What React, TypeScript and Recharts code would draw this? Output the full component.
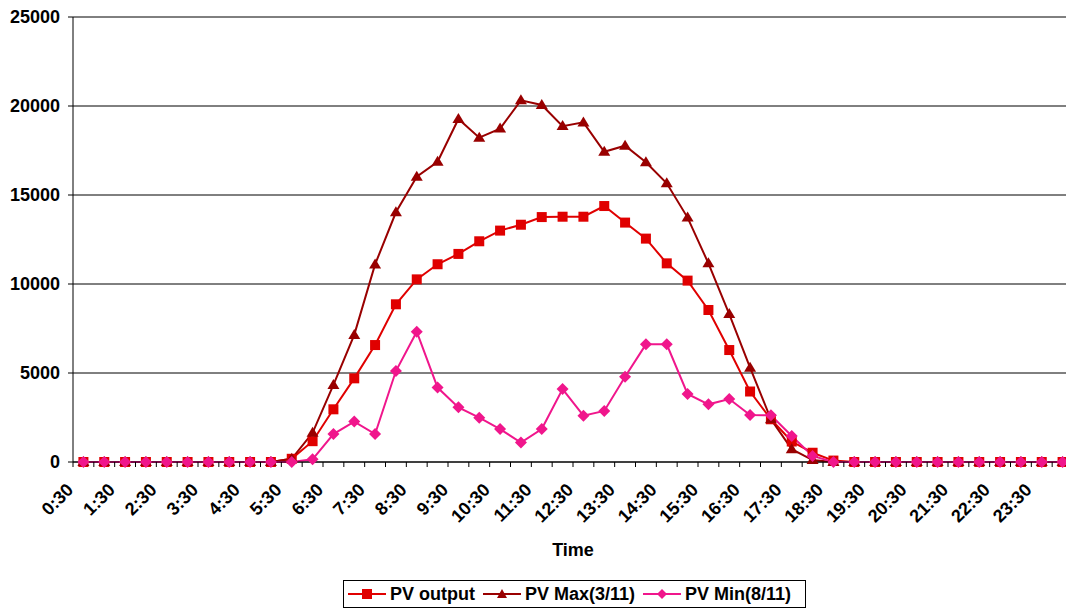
import React from "react";
import {
  LineChart,
  Line,
  XAxis,
  YAxis,
  CartesianGrid,
  Legend,
} from "recharts";

const times = [
  "0:30", "1:00", "1:30", "2:00", "2:30", "3:00", "3:30", "4:00",
  "4:30", "5:00", "5:30", "6:00", "6:30", "7:00", "7:30", "8:00",
  "8:30", "9:00", "9:30", "10:00", "10:30", "11:00", "11:30", "12:00",
  "12:30", "13:00", "13:30", "14:00", "14:30", "15:00", "15:30", "16:00",
  "16:30", "17:00", "17:30", "18:00", "18:30", "19:00", "19:30", "20:00",
  "20:30", "21:00", "21:30", "22:00", "22:30", "23:00", "23:30", "24:00",
];

const pvOutput = [
  0, 0, 0, 0, 0, 0, 0, 0, 0, 0, 180, 1170,
  2960, 4700, 6570, 8860, 10260, 11110, 11690, 12400, 13000, 13330, 13760, 13780,
  13780, 14380, 13450, 12550, 11160, 10190, 8540, 6290, 3960, 2400, 1150, 520,
  80, 0, 0, 0, 0, 0, 0, 0, 0, 0, 0, 0,
];

const pvMax = [
  0, 0, 0, 0, 0, 0, 0, 0, 0, 0, 180, 1640,
  4330, 7140, 11100, 14030, 16030, 16870, 19270, 18220, 18730, 20320, 20060, 18870,
  19080, 17430, 17770, 16840, 15660, 13730, 11160, 8310, 5300, 2400, 720, 110,
  0, 0, 0, 0, 0, 0, 0, 0, 0, 0, 0, 0,
];

const pvMin = [
  0, 0, 0, 0, 0, 0, 0, 0, 0, 0, 0, 150,
  1570, 2270, 1570, 5110, 7320, 4180, 3070, 2490, 1850, 1090, 1850, 4100,
  2600, 2870, 4790, 6610, 6610, 3820, 3240, 3540, 2640, 2620, 1460, 340,
  0, 0, 0, 0, 0, 0, 0, 0, 0, 0, 0, 0,
];

const yTicks = [0, 5000, 10000, 15000, 20000, 25000];

const data = times.map((t, i) => ({
  time: t,
  output: pvOutput[i],
  max: pvMax[i],
  min: pvMin[i],
}));

const RED = "#e00000";
const DARK = "#990000";
const PINK = "#f0168c";
const FONT = "'Liberation Sans', Arial, sans-serif";

// plot is 1000px wide with 48 categories (right edge is cut off by the window)
const BAND = 1000 / 48;

const squareDot = (color: string) => (p: any) => {
  if (p.cx == null || p.cy == null) return <g key={p.index} />;
  return <rect key={p.index} x={p.cx - 5} y={p.cy - 5} width={10} height={10} fill={color} />;
};

const triangleDot = (color: string) => (p: any) => {
  if (p.cx == null || p.cy == null) return <g key={p.index} />;
  const { cx, cy } = p;
  return (
    <path key={p.index} d={`M${cx},${cy - 6} L${cx + 6},${cy + 4} L${cx - 6},${cy + 4} Z`} fill={color} />
  );
};

const diamondDot = (color: string) => (p: any) => {
  if (p.cx == null || p.cy == null) return <g key={p.index} />;
  const { cx, cy } = p;
  return (
    <path key={p.index} d={`M${cx},${cy - 6} L${cx + 6},${cy} L${cx},${cy + 6} L${cx - 6},${cy} Z`} fill={color} />
  );
};

const XTick = (props: any) => {
  const { x, y, payload, index } = props;
  const lx = x - BAND / 2;
  const tx = x - 9;
  const ty = y + 29;
  return (
    <g>
      <line x1={lx} y1={y} x2={lx} y2={y + 5} stroke="#000" />
      {index % 2 === 0 && (
        <text
          x={tx}
          y={ty}
          transform={`rotate(-45, ${tx}, ${ty})`}
          textAnchor="end"
          fontFamily={FONT}
          fontWeight="bold"
          fontSize={18}
          fill="#000"
        >
          {payload.value}
        </text>
      )}
    </g>
  );
};

const legendItems = [
  { label: "PV output", color: RED, shape: "square" },
  { label: "PV Max(3/11)", color: DARK, shape: "triangle" },
  { label: "PV Min(8/11)", color: PINK, shape: "diamond" },
];

const LegendBox = () => (
  <div
    style={{
      boxSizing: "border-box",
      height: 28,
      border: "1px solid #000",
      display: "flex",
      alignItems: "center",
      padding: "0 4px",
      fontFamily: FONT,
      fontWeight: "bold",
      fontSize: 18,
      color: "#000",
      whiteSpace: "nowrap",
    }}
  >
    {legendItems.map((it) => (
      <span key={it.label} style={{ display: "flex", alignItems: "center", marginRight: 8 }}>
        <svg width={38} height={14} style={{ marginRight: 4 }}>
          <line x1={0} y1={7} x2={38} y2={7} stroke={it.color} strokeWidth={2} />
          {it.shape === "square" && <rect x={14} y={2} width={10} height={10} fill={it.color} />}
          {it.shape === "triangle" && <path d="M19,2 L24,11 L14,11 Z" fill={it.color} />}
          {it.shape === "diamond" && <path d="M19,2 L24,7 L19,12 L14,7 Z" fill={it.color} />}
        </svg>
        {it.label}
      </span>
    ))}
  </div>
);

export default function App() {
  return (
    <div
      style={{
        position: "fixed",
        left: 0,
        top: 0,
        width: 1066,
        height: 610,
        overflow: "hidden",
        background: "#fff",
      }}
    >
      <LineChart width={1080} height={610} data={data} margin={{ top: 17, right: 7, left: 0, bottom: 0 }}>
        <CartesianGrid vertical={false} stroke="#000" />
        <XAxis
          dataKey="time"
          interval={0}
          padding={{ left: BAND / 2, right: BAND / 2 }}
          tickSize={0}
          tickMargin={0}
          tickLine={false}
          axisLine={{ stroke: "#000" }}
          tick={<XTick />}
          height={120}
          label={{
            value: "Time",
            position: "insideBottom",
            offset: 26,
            fontFamily: FONT,
            fontWeight: "bold",
            fontSize: 18,
            fill: "#000",
          }}
        />
        <YAxis
          domain={[0, 25000]}
          ticks={yTicks}
          width={73}
          tickSize={5}
          tickMargin={8}
          axisLine={{ stroke: "#000" }}
          tickLine={{ stroke: "#000" }}
          tick={{ fontFamily: FONT, fontWeight: "bold", fontSize: 18, fill: "#000" }}
        />
        <Legend
          content={<LegendBox />}
          wrapperStyle={{ left: 343, top: 580, width: 463, height: 28 }}
        />
        <Line
          dataKey="output"
          name="PV output"
          stroke={RED}
          strokeWidth={2}
          dot={squareDot(RED)}
          activeDot={false}
          isAnimationActive={false}
        />
        <Line
          dataKey="max"
          name="PV Max(3/11)"
          stroke={DARK}
          strokeWidth={2}
          dot={triangleDot(DARK)}
          activeDot={false}
          isAnimationActive={false}
        />
        <Line
          dataKey="min"
          name="PV Min(8/11)"
          stroke={PINK}
          strokeWidth={2}
          dot={diamondDot(PINK)}
          activeDot={false}
          isAnimationActive={false}
        />
      </LineChart>
    </div>
  );
}
